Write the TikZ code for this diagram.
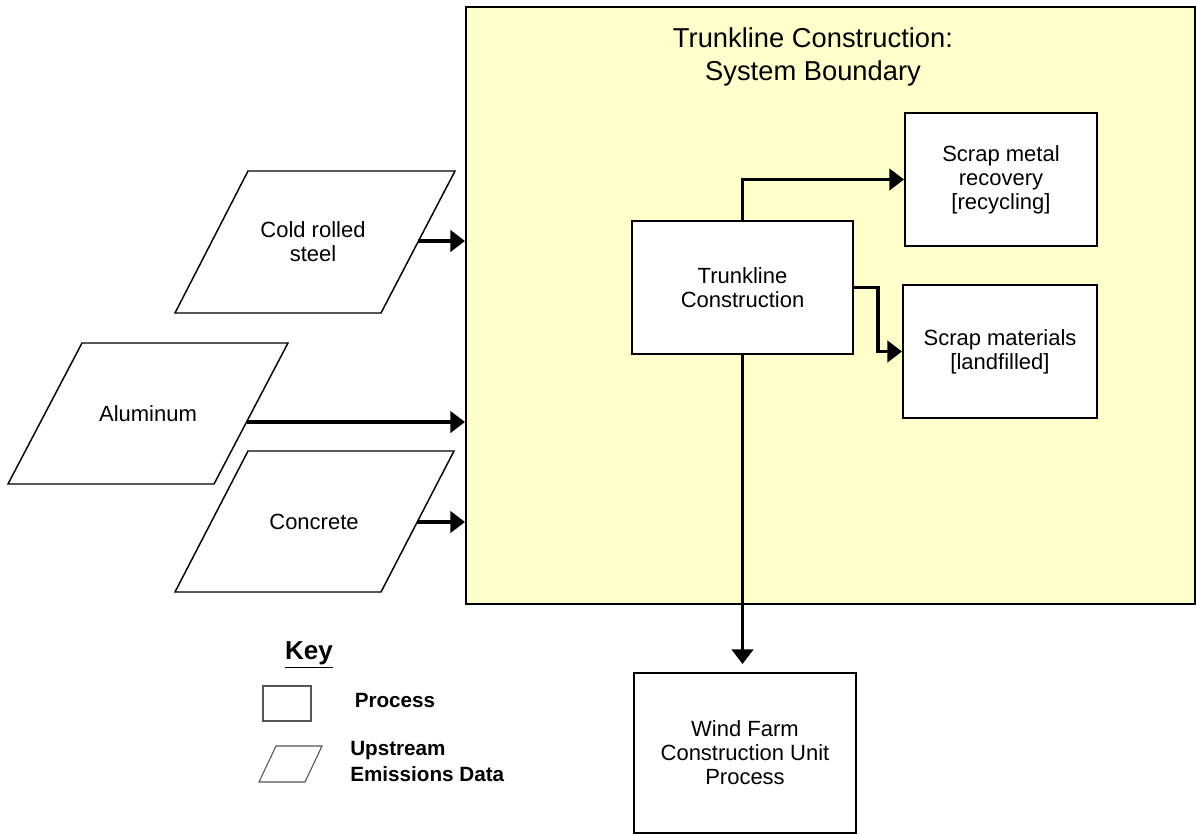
\documentclass[tikz,border=0pt]{standalone}
\usepackage{fontspec}
\setmainfont{Liberation Sans}
\usetikzlibrary{arrows.meta}
\definecolor{boundfill}{HTML}{FFFFCC}
\definecolor{keyline}{HTML}{555555}
\begin{document}
\begin{tikzpicture}[x=0.75pt,y=-0.75pt,
  box/.style={draw, line width=1.5pt, fill=white, inner sep=0pt, align=center,
    font=\fontsize{16.5}{18}\selectfont},
  para/.style={draw, line width=1.1pt, fill=white},
  lbl/.style={align=center, inner sep=0pt, font=\fontsize{16.5}{18}\selectfont},
  flow/.style={line width=2.6pt, -{Triangle[length=11pt,width=16pt]}},
  keytxt/.style={font=\bfseries\fontsize{15.5}{20}\selectfont, inner sep=0pt}]
\useasboundingbox (0,0) rectangle (1196,833);

% system boundary
\node[draw, line width=1.5pt, fill=boundfill, inner sep=0pt,
  minimum width=546.75pt, minimum height=447.75pt] (bound) at (830.5,305.5) {};
\node[align=center, inner sep=0pt, font=\fontsize{20.5}{24.75}\selectfont] (title) at (813,56.5)
  {Trunkline Construction:\\System Boundary};

% process boxes
\node[box, minimum width=165.75pt, minimum height=99.75pt] (trunk) at (742.5,287.5)
  {Trunkline\\Construction};
\node[box, minimum width=144pt, minimum height=99.75pt] (metal) at (1001,179.5)
  {Scrap metal\\recovery\\{[recycling]}};
\node[box, minimum width=145.5pt, minimum height=99.75pt] (landfill) at (1000,351.5)
  {Scrap materials\\{[landfilled]}};
\node[box, minimum width=166.5pt, minimum height=120pt] (wind) at (745,753)
  {Wind Farm\\Construction Unit\\Process};

% upstream parallelograms
\draw[para] (248,171) -- (455,171) -- (381,313) -- (175,313) -- cycle;
\node[lbl] (steel) at (313,242) {Cold rolled\\steel};
\coordinate (steelout) at (418,241);

\draw[para] (82,343) -- (288,343) -- (214,484) -- (8,484) -- cycle;
\node[lbl] (alu) at (148,413.5) {Aluminum};
\coordinate (aluout) at (247,422);

\draw[para] (248,451) -- (454,451) -- (381,592) -- (175,592) -- cycle;
\node[lbl] (conc) at (314,521.5) {Concrete};
\coordinate (concout) at (417,522);

% connectors
\draw[flow] (steelout) -- (steelout -| bound.west);
\draw[flow] (aluout) -- (aluout -| bound.west);
\draw[flow] (concout) -- (concout -| bound.west);
\draw[flow] (trunk.north) |- (metal.west);
\draw[flow] (trunk.east) -- ++(24,0) |- (landfill.west);
\draw[flow, shorten >=6pt] (trunk.south) -- (trunk.south |- wind.north);

% key
\node[font=\bfseries\fontsize{19.5}{22}\selectfont, inner sep=0pt] (key) at (309,655) {\underline{Key}};
\node[draw=keyline, line width=0.8pt, minimum width=36pt, minimum height=26.25pt, inner sep=0pt]
  (keyproc) at (287,703.5) {};
\node[keytxt] (keyproclbl) at (395,700) {Process};
\draw[draw=keyline, line width=0.8pt] (276,746) -- (322,746) -- (305,782) -- (259,782) -- cycle;
\node[keytxt, anchor=west, align=left] (keyparalbl) at (350,761.5) {Upstream\\Emissions Data};
\end{tikzpicture}
\end{document}
